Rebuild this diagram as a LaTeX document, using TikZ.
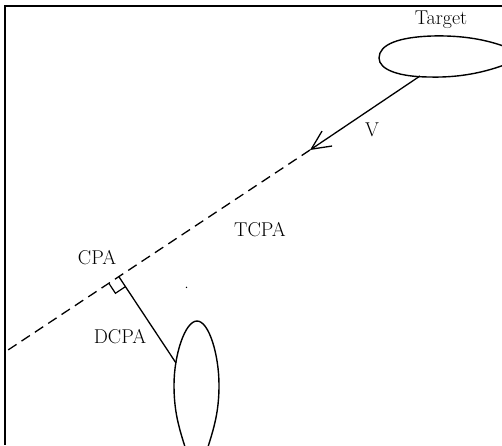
\documentclass[tikz,border=0pt]{standalone}
\usepackage{fontspec}
\usetikzlibrary{arrows.meta,calc}
\begin{document}
\begin{tikzpicture}[x=1pt,y=-1pt,
  lbl/.style={font=\fontsize{20}{24}\selectfont, inner sep=0pt},
  hull/.style={line width=1.4pt},
  ln/.style={line width=1.3pt},
  frameline/.style={line width=1.2pt},
  track/.style={line width=1.3pt, dash pattern=on 10pt off 6pt}]
\useasboundingbox (0,0) rectangle (502,445);
\clip (0,0) rectangle (502,445);
% frame
\coordinate (c0) at (5,6);
\coordinate (c1) at (502,6);
\coordinate (c2) at (5,445);
\draw[frameline] (c1) -- (c0) -- (c2);
% target ship
\draw[hull] (379,58) .. controls (379,44) and (400,37) .. (432,36)
  .. controls (470,35) and (500,42) .. (526,56)
  .. controls (500,68) and (470,78) .. (430,77)
  .. controls (400,77) and (379,70) .. (379,58) -- cycle;
% own ship
\draw[hull] (197,321) .. controls (185,321) and (174,355) .. (174,385)
  .. controls (174,412) and (179,428) .. (186,450) -- (207,450)
  .. controls (214,428) and (219,412) .. (219,385)
  .. controls (219,355) and (209,321) .. (197,321) -- cycle;
% key points
\coordinate (ts) at (420,76);
\coordinate (tip) at (310,150);
\coordinate (L) at (5,352);
\coordinate (own) at (176,363);
\coordinate (F) at ($(tip)!(own)!(L)$);
% velocity arrow and track
\draw[ln, -{Straight Barb[length=19pt,width=18pt]}] (ts) -- (tip);
\draw[track] (tip) -- (L);
% DCPA
\draw[ln] (F) -- (own);
\coordinate (A) at ($(F)!12pt!(L)$);
\coordinate (B) at ($(F)!12pt!(own)$);
\coordinate (C) at ($(A)+(B)-(F)$);
\draw[line width=1.2pt] (A) -- (C) -- (B);
% labels
\node[lbl] (target) at (441,20) {Target};
\node[lbl] (v) at (372,130) {V};
\node[lbl] (tcpa) at (260,230) {TCPA};
\node[lbl] (cpa) at (97,258) {CPA};
\node[lbl] (dcpa) at (120,337) {DCPA};
\node[circle, fill, inner sep=0pt, minimum size=1.6pt] (dot) at (186.5,287.3) {};
\end{tikzpicture}
\end{document}
